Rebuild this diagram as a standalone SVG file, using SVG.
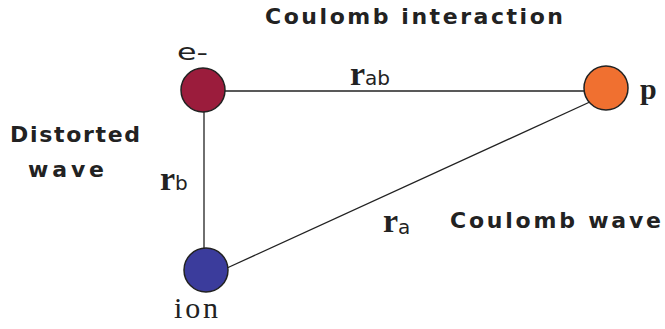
<svg xmlns="http://www.w3.org/2000/svg" width="665" height="329" viewBox="0 0 665 329">
<style>
.lbl{font-family:"DejaVu Sans","Liberation Sans",sans-serif;font-weight:bold;font-size:22px;fill:#222}
.ser{font-family:"Liberation Serif","DejaVu Serif",serif;fill:#222}
.sub{font-family:"DejaVu Sans","Liberation Sans",sans-serif;font-size:20px;font-weight:normal}
.node{stroke:#222;stroke-width:1.5}
.conn{stroke:#222;stroke-width:1.3;fill:none}
</style>
<rect width="665" height="329" fill="#fff"/>
<g id="connectors">
<line class="conn" x1="225" y1="91" x2="584" y2="91"/>
<line class="conn" x1="204" y1="112" x2="204" y2="249"/>
<line class="conn" x1="227" y1="268" x2="592" y2="101"/>
</g>
<g id="e"><circle class="node" cx="203" cy="90" r="22" fill="#9b1c3c"/><text x="177" y="60" font-size="23" fill="#222" font-family="DejaVu Sans, sans-serif" textLength="31" lengthAdjust="spacingAndGlyphs">e-</text></g>
<g id="p"><circle class="node" cx="606" cy="88" r="22" fill="#f07030"/><text class="ser" x="640" y="99" font-size="30" font-weight="bold">p</text></g>
<g id="ion"><circle class="node" cx="206" cy="270" r="22" fill="#3b3c9c"/><text class="ser" x="174" y="318" font-size="30" textLength="44" lengthAdjust="spacing">ion</text></g>
<text class="lbl" x="265" y="24" textLength="298" lengthAdjust="spacing">Coulomb interaction</text>
<text class="lbl" x="10" y="142" textLength="130" lengthAdjust="spacing">Distorted</text>
<text class="lbl" x="28" y="177" textLength="76" lengthAdjust="spacing">wave</text>
<text class="lbl" x="450" y="228" textLength="211" lengthAdjust="spacing">Coulomb wave</text>
<text class="ser" x="350" y="85" font-size="34" font-weight="bold">r<tspan class="sub" dy="0">ab</tspan></text>
<text class="ser" x="160" y="190" font-size="34" font-weight="bold">r<tspan class="sub" dy="0">b</tspan></text>
<text class="ser" x="383" y="232" font-size="34" font-weight="bold">r<tspan class="sub" dy="2">a</tspan></text>
</svg>
